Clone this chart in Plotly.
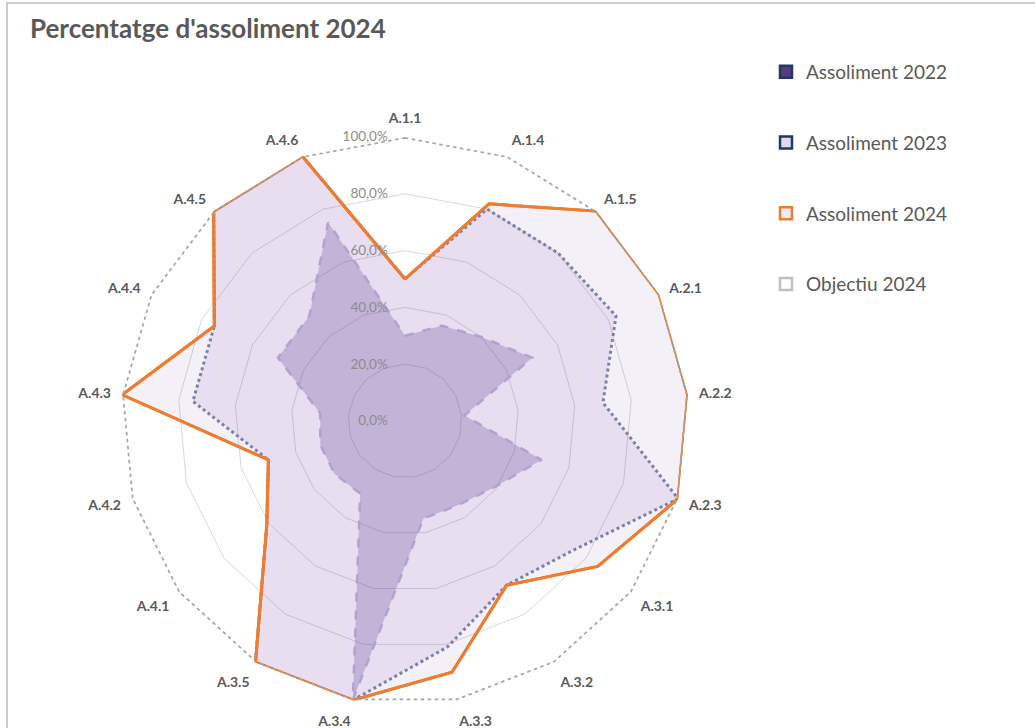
import plotly.graph_objects as go

categories = ["A.1.1", "A.1.4", "A.1.5", "A.2.1", "A.2.2", "A.2.3", "A.3.1", "A.3.2",
              "A.3.3", "A.3.4", "A.3.5", "A.4.1", "A.4.2", "A.4.3", "A.4.4", "A.4.5", "A.4.6"]
assoliment_2022 = [0.30, 0.36, 0.40, 0.50, 0.21, 0.50, 0.39, 0.35, 0.35, 1.00, 0.30, 0.31, 0.31, 0.30, 0.50, 0.50, 0.75]
assoliment_2023 = [0.50, 0.80, 0.80, 0.83, 0.70, 1.00, 0.75, 0.68, 0.81, 1.00, 1.00, 0.61, 0.50, 0.75, 0.75, 1.00, 1.00]
assoliment_2024 = [0.50, 0.82, 1.00, 1.00, 1.00, 1.00, 0.85, 0.68, 0.90, 1.00, 1.00, 0.61, 0.50, 1.00, 0.75, 1.00, 1.00]
objectiu_2024 = [1.00, 1.00, 1.00, 1.00, 1.00, 1.00, 1.00, 1.00, 1.00, 1.00, 1.00, 1.00, 1.00, 1.00, 1.00, 1.00, 1.00]
radial_ticks = [0, 0.2, 0.4, 0.6, 0.8, 1.0]
series_names = ["Assoliment 2022", "Assoliment 2023", "Assoliment 2024", "Objectiu 2024"]


def closed(vals):
    return list(vals) + [vals[0]]


theta = closed(categories)
FONT = "Lato"

fig = go.Figure()
# area layers (largest first)
fig.add_trace(go.Scatterpolar(
    r=closed(assoliment_2024), theta=theta, name=series_names[2], mode="lines",
    fill="toself", fillcolor="rgba(112,48,160,0.075)",
    line=dict(color="#ED7D31", width=3), showlegend=False))
fig.add_trace(go.Scatterpolar(
    r=closed(assoliment_2023), theta=theta, name=series_names[1], mode="lines",
    fill="toself", fillcolor="rgba(112,48,160,0.095)",
    line=dict(color="#7C80A8", width=3, dash="dot"), showlegend=False))
fig.add_trace(go.Scatterpolar(
    r=closed(assoliment_2022), theta=theta, name=series_names[0], mode="lines",
    fill="toself", fillcolor="rgba(100,70,150,0.28)",
    line=dict(color="rgba(170,160,205,0.9)", width=2.5, dash="dash"), showlegend=False))
fig.add_trace(go.Scatterpolar(
    r=closed(assoliment_2024), theta=theta, name=series_names[2], mode="lines",
    line=dict(color="#ED7D31", width=3), showlegend=False))
fig.add_trace(go.Scatterpolar(
    r=closed(objectiu_2024), theta=theta, name=series_names[3], mode="lines",
    line=dict(color="#A6A6A6", width=3.5, dash="dot"), showlegend=False))

# legend entries (square swatches as in the original)
legend_fill = ["#5B3B7D", "#E3D8EF", "#F1ECF7", "#FFFFFF"]
legend_edge = ["#203864", "#203864", "#ED7D31", "#BFBFBF"]
for i, nm in enumerate(series_names):
    fig.add_trace(go.Scatterpolar(
        r=[None], theta=[categories[0]], name=nm, mode="markers",
        marker=dict(symbol="square", size=12, color=legend_fill[i],
                    line=dict(color=legend_edge[i], width=2.5)),
        legendgroup=nm, showlegend=True))

W, H = 1035, 728
cx, cy, R = 405, 421, 284

fig.update_layout(
    width=W, height=H, autosize=False,
    margin=dict(l=0, r=0, t=0, b=0),
    paper_bgcolor="white", plot_bgcolor="white",
    separators=",.",
    font=dict(family=FONT, color="#595959"),
    title=dict(text="<b>Percentatge d'assoliment 2024</b>", x=30 / W, xanchor="left",
               y=1 - 29 / H, yanchor="middle", xref="container", yref="container",
               font=dict(size=26, color="#595959", family=FONT)),
    polar=dict(
        domain=dict(x=[(cx - R) / W, (cx + R) / W], y=[1 - (cy + R) / H, 1 - (cy - R) / H]),
        bgcolor="white",
        gridshape="linear",
        radialaxis=dict(range=[0, 1], tickvals=radial_ticks, tickformat=".1%",
                        angle=90, side="counterclockwise", showline=False, tickangle=90,
                        gridcolor="#D9D9D9", gridwidth=1,
                        ticks="outside", ticklen=12, tickcolor="rgba(0,0,0,0)",
                        tickfont=dict(size=13.5, color="#8C8C8C", family=FONT)),
        angularaxis=dict(direction="clockwise", rotation=90, showgrid=False, showline=False,
                         ticks="outside", ticklen=8, tickcolor="rgba(0,0,0,0)",
                         tickfont=dict(size=14, color="#595959", family=FONT, weight="bold")),
    ),
    legend=dict(x=766 / W, y=1 - 53 / H, xanchor="left", yanchor="top",
                font=dict(size=19, color="#595959", family=FONT),
                tracegroupgap=43, itemwidth=30, bgcolor="rgba(0,0,0,0)"),
    shapes=[dict(type="rect", xref="paper", yref="paper", x0=7 / W, x1=1.02, y0=-0.02, y1=1 - 3 / H,
                 line=dict(color="#BFBFBF", width=1.5), fillcolor="rgba(0,0,0,0)", layer="below")],
)

fig.write_html("out.html", config={"displayModeBar": False},
               post_script="document.body.style.margin='0';")
